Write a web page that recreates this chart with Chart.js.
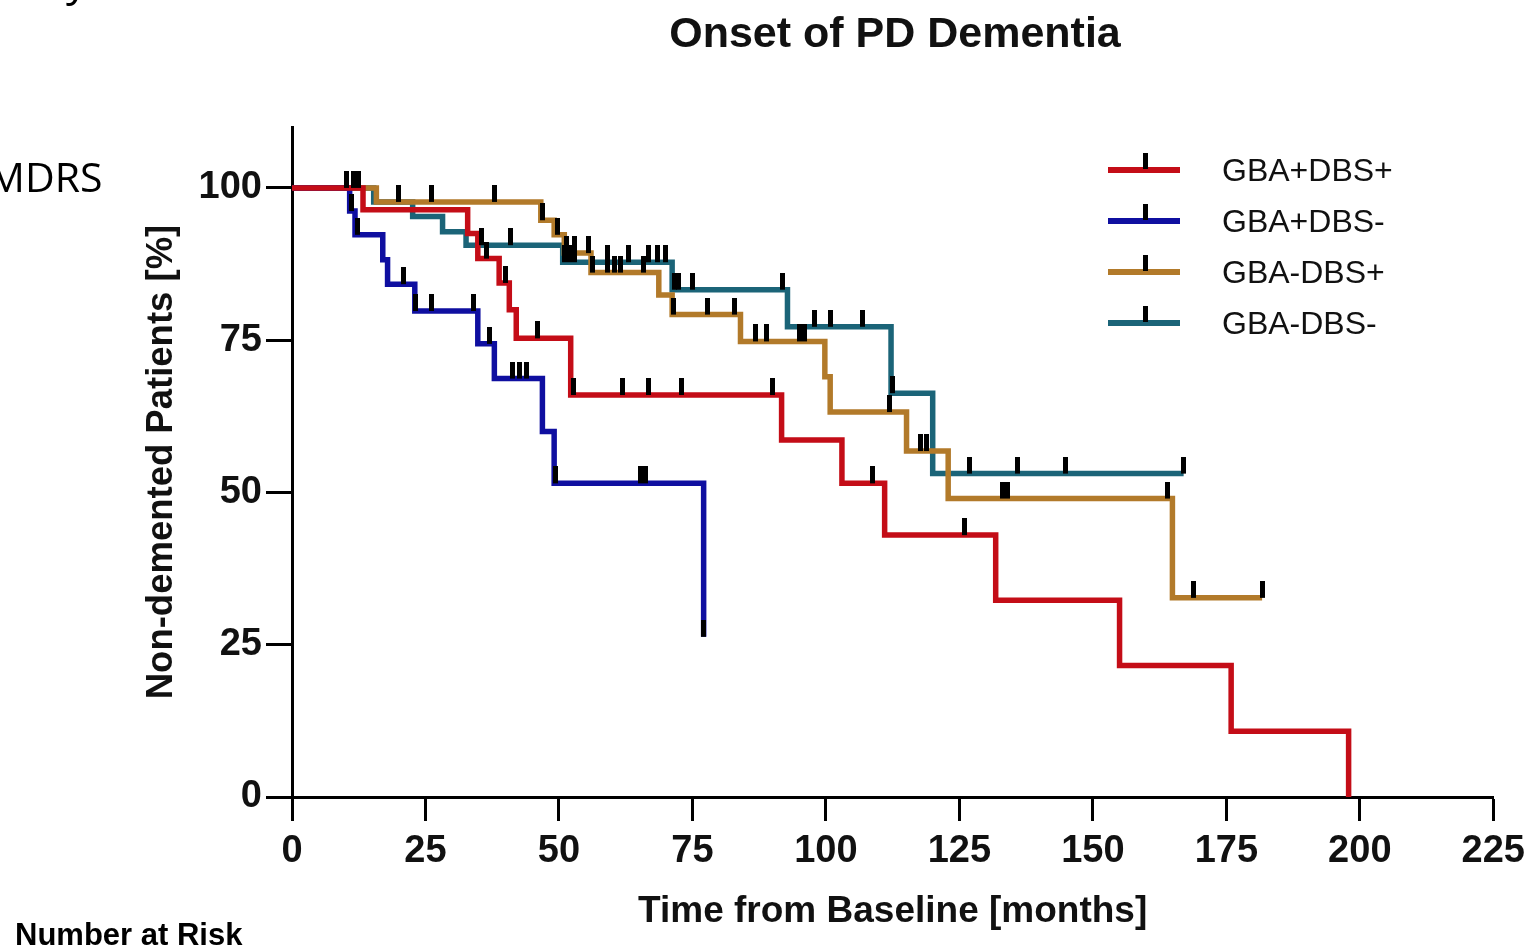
<!DOCTYPE html>
<html>
<head>
<meta charset="utf-8">
<title>Onset of PD Dementia</title>
<script src="https://cdn.jsdelivr.net/npm/chart.js@4.4.1/dist/chart.umd.min.js"></script>
<style>
  html, body { margin: 0; padding: 0; background: #fff; overflow: hidden; }
  #wrap { position: relative; width: 1533px; height: 949px; }
  #km { position: absolute; left: 0; top: 0; }
  .note { position: absolute; color: #000; white-space: nowrap; }
  #title { position: absolute; left: 895px; top: 8px; transform: translateX(-50%);
           font: bold 43px 'Liberation Sans', Arial, sans-serif; color: #111; white-space: nowrap; }
  #legend { position: absolute; left: 1108px; top: 146px; font-family: "Liberation Sans", Arial, sans-serif; }
  .row { position: relative; height: 51px; width: 420px; }
  .row .ln { position: absolute; left: 0; top: 21px; width: 72px; height: 6px; }
  .row .tk { position: absolute; left: 35px; top: 7px; width: 5px; height: 16px; background: #000; }
  .row .lb { position: absolute; left: 114px; top: 6px; font-size: 32px; line-height: 36px; color: #111; white-space: nowrap; }
</style>
</head>
<body>
<div id="wrap">
  <canvas id="km" width="1533" height="949"></canvas>
  <div id="title">Onset of PD Dementia</div>
  <div class="note" style="left:66px; top:-52px; font: 44px 'Open Sans', sans-serif;">y</div>
  <div class="note" style="left:-12px; top:148px; font: 41px 'Open Sans', sans-serif;">MDRS</div>
  <div class="note" style="left:15px; top:917px; font: bold 31px 'Liberation Sans', Arial, sans-serif;">Number at Risk</div>
  <div id="legend"></div>
</div>
<script>
// Kaplan-Meier steps: time of each drop (months) and survival after it (%)
const groupNames = ['GBA+DBS+', 'GBA+DBS-', 'GBA-DBS+', 'GBA-DBS-'];
const groupColors = ['#c40d17', '#0f0fa0', '#b27a2a', '#1b6478'];

const redTime = [0, 13.3, 32.9, 34.8, 38.8, 40.7, 42.0, 52.2, 91.7, 103.0, 111.0, 131.8, 155.0, 175.9, 197.9];
const redSurv = [100, 96.4, 92.5, 88.4, 84.4, 80.0, 75.3, 66.0, 58.6, 51.5, 43.0, 32.3, 21.6, 10.8, 0];

const blueTime = [0, 10.8, 11.8, 17.0, 17.9, 23.0, 34.8, 37.9, 46.9, 49.1, 77.1];
const blueSurv = [100, 96.2, 92.3, 88.2, 84.2, 79.8, 74.4, 68.7, 60.0, 51.5, 26.3];

const goldTime = [0, 15.8, 46.6, 49.1, 51.0, 56.0, 68.7, 71.2, 84.0, 99.8, 100.8, 115.1, 122.9, 164.9, 181.7];
const goldSurv = [100, 97.7, 94.7, 92.3, 89.3, 86.1, 82.4, 79.2, 74.8, 69.0, 63.2, 56.8, 49.0, 32.7, 32.7];

const tealTime = [0, 15.3, 22.6, 28.2, 32.6, 50.7, 71.2, 92.8, 112.2, 120.0, 167.0];
const tealSurv = [100, 97.7, 95.3, 92.8, 90.6, 87.8, 83.3, 77.2, 66.3, 53.1, 53.1];

// censored patients (months)
const redCensor = [11.5, 12.5, 36.5, 40.0, 46.0, 52.8, 61.9, 66.8, 72.9, 90.0, 108.8, 126.0];
const blueCensor = [10.3, 11.2, 12.3, 20.9, 23.2, 26.1, 34.0, 37.0, 41.3, 42.6, 44.0, 49.3, 65.2, 66.2, 77.1];
const goldCensor = [19.9, 26.1, 37.9, 47.0, 49.7, 51.5, 53.0, 55.5, 56.3, 59.1, 60.4, 61.5, 65.9, 71.5, 77.9, 82.8,
                    86.9, 88.9, 95.0, 96.0, 112.0, 117.8, 118.8, 133.0, 134.0, 163.9, 168.9, 181.7];
const tealCensor = [35.5, 41.0, 51.0, 52.0, 53.0, 59.1, 63.0, 66.8, 68.4, 70.0, 71.6, 72.4, 75.0, 91.9, 97.8, 100.9,
                    106.8, 112.4, 126.9, 135.9, 144.8, 167.0];

const xTicks = [0, 25, 50, 75, 100, 125, 150, 175, 200, 225];
const yTicks = [0, 25, 50, 75, 100];

const FONT = "'Liberation Sans', Arial, sans-serif";

// survival value of a step curve at time t
function survAt(times, surv, t) {
    let s = surv[0];
    for (let i = 0; i < times.length; i++) {
        if (times[i] <= t) s = surv[i];
    }
    return s;
}

// censor mark: black bar sitting on top of the line
function makeTick() {
    const c = document.createElement('canvas');
    c.width = 5;
    c.height = 34;
    const g = c.getContext('2d');
    g.fillStyle = '#000';
    g.fillRect(0, 0, 5, 17);
    return c;
}
const tickMark = makeTick();

const curves = [
    [redTime, redSurv, redCensor],
    [blueTime, blueSurv, blueCensor],
    [goldTime, goldSurv, goldCensor],
    [tealTime, tealSurv, tealCensor]
];

let datasets = [];
curves.forEach(function (c, i) {
    datasets.push({
        label: groupNames[i],
        data: c[0].map((t, k) => ({x: t, y: c[1][k]})),
        borderColor: groupColors[i],
        borderWidth: 5.5,
        stepped: 'before',
        pointRadius: 0,
        fill: false,
        order: 1
    });
});
curves.forEach(function (c, i) {
    datasets.push({
        label: groupNames[i] + ' censored',
        type: 'scatter',
        data: c[2].map(t => ({x: t, y: survAt(c[0], c[1], t)})),
        pointStyle: tickMark,
        pointRadius: 3,
        order: 0
    });
});

// legend in the upper right of the plot
const legend = document.getElementById('legend');
groupNames.forEach(function (name, i) {
    const row = document.createElement('div');
    row.className = 'row';
    row.innerHTML = '<div class="ln" style="background:' + groupColors[i] + '"></div>' +
        '<div class="tk"></div><div class="lb">' + name + '</div>';
    legend.appendChild(row);
});

new Chart(document.getElementById('km'), {
    type: 'line',
    data: {datasets: datasets},
    options: {
        responsive: false,
        animation: false,
        layout: {padding: {left: 0, right: 36, top: 127, bottom: 12}},
        plugins: {
            legend: {display: false},
            tooltip: {enabled: false},
            title: {display: false}
        },
        scales: {
            x: {
                type: 'linear',
                min: 0,
                max: 225,
                afterFit: function (scale) { scale.height = 140; },
                afterBuildTicks: function (scale) { scale.ticks = xTicks.map(v => ({value: v})); },
                border: {display: true, color: '#000', width: 3},
                grid: {drawOnChartArea: false, drawTicks: true, tickLength: 24, tickColor: '#000', tickWidth: 3},
                ticks: {color: '#111', padding: 8, maxRotation: 0, font: {family: FONT, size: 38, weight: 'bold'}},
                title: {
                    display: true,
                    text: 'Time from Baseline [months]',
                    color: '#111',
                    font: {family: FONT, size: 37, weight: 'bold'},
                    padding: {top: 0, bottom: 3}
                }
            },
            y: {
                type: 'linear',
                min: 0,
                max: 110,
                afterFit: function (scale) { scale.width = 292; },
                afterBuildTicks: function (scale) { scale.ticks = yTicks.map(v => ({value: v})); },
                border: {display: true, color: '#000', width: 3},
                grid: {drawOnChartArea: false, drawTicks: true, tickLength: 26, tickColor: '#000', tickWidth: 3},
                ticks: {color: '#111', padding: 4, font: {family: FONT, size: 38, weight: 'bold'}},
                title: {
                    display: true,
                    text: 'Non-demented Patients [%]',
                    color: '#111',
                    font: {family: FONT, size: 36.5, weight: 'bold'},
                    padding: {top: 140, bottom: 0}
                }
            }
        }
    }
});
</script>
</body>
</html>
